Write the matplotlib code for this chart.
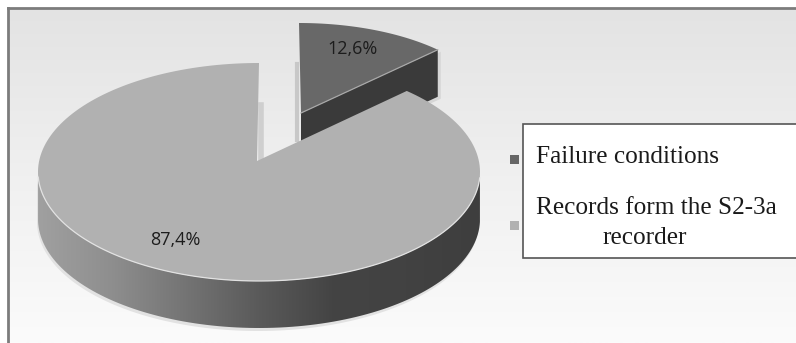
#!/usr/bin/env python3
"""3D style pie chart with exploded slices, drawn in pixel coordinates."""

import numpy as np
import matplotlib
matplotlib.use("Agg")
import matplotlib.pyplot as plt
from matplotlib.colors import LinearSegmentedColormap
from matplotlib.patches import Polygon, Rectangle

categories = ["Failure conditions", "Records form the S2-3a recorder"]
values = [12.6, 87.4]

W, H = 796, 343


def arc(cx, cy, a, b, start, end, n=200):
    """Points on an ellipse, angles in degrees clockwise from 12 o'clock."""
    t = np.radians(np.linspace(start, end, n))
    return np.column_stack([cx + a * np.sin(t), cy - b * np.cos(t)])


def side_polygon(points, depth):
    lower = points[::-1] + [0, depth]
    return np.vstack([points, lower])


fig = plt.figure(figsize=(W / 100, H / 100), dpi=100)
ax = fig.add_axes([0, 0, 1, 1])
ax.axis("off")

# background panel with vertical gradient and grey frame
bg_cmap = LinearSegmentedColormap.from_list("bg", ["#e3e3e3", "#f0f0f0", "#fbfbfb"])
ax.imshow(np.linspace(0, 1, 256)[:, None], cmap=bg_cmap, aspect="auto",
          extent=[8, W, H, 8], zorder=0)
ax.plot([8, W], [8, 8], color="#7c7c7c", lw=2, zorder=1)
ax.plot([8, 8], [8, H], color="#7c7c7c", lw=2, zorder=1)

sweep = 360 * values[0] / sum(values)
depth = 47

# small slice
apex_s = np.array([301, 113])
rim_s = arc(299, 113, 195, 90, 0, sweep)
top_s = np.vstack([apex_s, rim_s])
side_s = np.array([apex_s, rim_s[-1], rim_s[-1] + [0, depth], apex_s + [0, depth]])
ax.add_patch(Polygon(side_s + [3, 2], color="#d6d6d6", lw=0, zorder=2))
ax.add_patch(Polygon(side_s, color="#3a3a3a", lw=0, zorder=3))
ax.add_patch(Polygon(top_s, color="#686868", lw=0, zorder=4))
ax.plot([apex_s[0], rim_s[-1][0]], [apex_s[1], rim_s[-1][1]],
        color="#a8a8a8", lw=0.9, zorder=5)

# shadows in the notch
ax.plot([297, 297], [64, 140], color="#c8c8c8", lw=3, zorder=2)
ax.plot([261, 261], [105, 160], color="#cfcfcf", lw=4, zorder=2)

# big slice, corner pulled back a little for the perspective of the original
cx, cy, a, b = 259, 172, 221, 109
apex_b = np.array([257, 161])
rim_b = arc(cx, cy, a, b, sweep - 3.4, 360)
top_b = np.vstack([apex_b, rim_b])

# only the front of the rim has a visible side
front = rim_b[rim_b[:, 1] > cy]

shadow = side_polygon(front, depth) + [-1, 3]
ax.add_patch(Polygon(shadow, color="#e2e2e2", lw=0, zorder=5))

side_cmap = LinearSegmentedColormap.from_list(
    "side", ["#a0a0a0", "#8e8e8e", "#747474", "#5a5a5a", "#444444", "#424242", "#3e3e3e"])
side_clip = Polygon(side_polygon(front, depth), transform=ax.transData)
grad = ax.imshow(np.linspace(0, 1, 256)[None, :], cmap=side_cmap, aspect="auto",
                 extent=[cx - a, cx + a, 340, 60], zorder=6)
grad.set_clip_path(side_clip)

ax.add_patch(Polygon(top_b, color="#b1b1b1", lw=0, zorder=7))
edge = rim_b[rim_b[:, 1] > cy + 5]
ax.plot(edge[:, 0], edge[:, 1], color="#e2e2e2", lw=0.9, zorder=8)

# value labels
label_font = ["Open Sans", "DejaVu Sans"]
for v, (x, y) in zip(values, [(353, 49), (175, 240)]):
    ax.text(x, y, f"{v}%".replace(".", ","), ha="center", va="center",
            fontsize=13, family=label_font, color="#1c1c1c", zorder=9)

# legend box
ax.add_patch(Rectangle((523, 124), 300, 134, facecolor="white", edgecolor="#555555",
                       lw=1.2, zorder=9))
ax.add_patch(Rectangle((510, 155), 9, 9, color="#666666", lw=0, zorder=9))
ax.add_patch(Rectangle((510, 221), 9, 9, color="#b1b1b1", lw=0, zorder=9))

serif = "Liberation Serif"
legend_words = categories[1].split(" ")
ax.text(536, 157, categories[0], ha="left", va="center", fontsize=18.2,
        family=serif, color="#1a1a1a", zorder=10)
ax.text(536, 208, " ".join(legend_words[:-1]), ha="left", va="center", fontsize=18.2,
        family=serif, color="#1a1a1a", zorder=10)
ax.text(645, 238, legend_words[-1], ha="center", va="center", fontsize=18.2,
        family=serif, color="#1a1a1a", zorder=10)

ax.set_xlim(0, W)
ax.set_ylim(H, 0)

fig.savefig("out.png", dpi=100)
